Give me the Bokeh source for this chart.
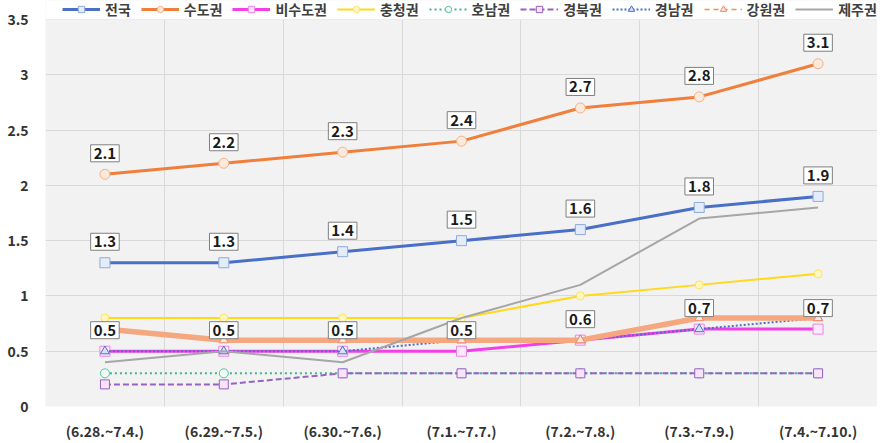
from bokeh.plotting import figure
from bokeh.models import FixedTicker, Legend, LegendItem, Label, BoxAnnotation
from bokeh.embed import file_html
from bokeh.resources import INLINE

categories = ["(6.28.~7.4.)", "(6.29.~7.5.)", "(6.30.~7.6.)", "(7.1.~7.7.)",
              "(7.2.~7.8.)", "(7.3.~7.9.)", "(7.4.~7.10.)"]
nationwide = [1.3, 1.3, 1.4, 1.5, 1.6, 1.8, 1.9]
capital = [2.1, 2.2, 2.3, 2.4, 2.7, 2.8, 3.1]
non_capital = [0.5, 0.5, 0.5, 0.5, 0.6, 0.7, 0.7]
chungcheong = [0.8, 0.8, 0.8, 0.8, 1.0, 1.1, 1.2]
honam = [0.3, 0.3, 0.3, 0.3, 0.3, 0.3, 0.3]
gyeongbuk = [0.2, 0.2, 0.3, 0.3, 0.3, 0.3, 0.3]
gyeongnam = [0.5, 0.5, 0.5, 0.6, 0.6, 0.7, 0.8]
gangwon = [0.7, 0.6, 0.6, 0.6, 0.6, 0.8, 0.8]
jeju = [0.4, 0.5, 0.4, 0.8, 1.1, 1.7, 1.8]
y_ticks = [0, 0.5, 1, 1.5, 2, 2.5, 3, 3.5]
y_tick_labels = ["0", "0.5", "1", "1.5", "2", "2.5", "3", "3.5"]

KR = "Noto Sans CJK KR"
xs = list(range(len(categories)))
LEFT, FW, FH, LEG = 45, 832, 406, 19   # LEG: px reserved at top of frame for legend
y_end = y_ticks[-1] * FH / (FH - LEG)

p = figure(frame_width=FW, frame_height=FH, x_range=(-0.5, len(categories) - 0.5),
           y_range=(y_ticks[0], y_end), output_backend="svg",
           toolbar_location=None, min_border_left=LEFT, min_border_right=0,
           min_border_top=0, min_border_bottom=29)
p.background_fill_color = "#f2f2f2"
p.border_fill_color = "white"
p.outline_line_color = None

p.xgrid.ticker = FixedTicker(ticks=[i + 0.5 for i in xs[:-1]])
p.ygrid.ticker = FixedTicker(ticks=y_ticks)
p.xgrid.grid_line_color = "#d9d9d9"
p.ygrid.grid_line_color = "#d9d9d9"

p.xaxis.ticker = FixedTicker(ticks=xs)
p.xaxis.major_label_overrides = {i: c for i, c in enumerate(categories)}
p.yaxis.ticker = FixedTicker(ticks=y_ticks)
p.yaxis.major_label_overrides = {t: l for t, l in zip(y_ticks, y_tick_labels)}
for ax in (p.xaxis, p.yaxis):
    ax.axis_line_color = None
    ax.major_tick_line_color = None
    ax.minor_tick_line_color = None
    ax.major_label_text_font = KR
    ax.major_label_text_font_size = "14px"
    ax.major_label_text_font_style = "bold"
    ax.major_label_text_color = "#333333"
p.yaxis.major_label_standoff = 11
p.xaxis.major_label_standoff = 8

items = []

def series(name, vals, color, width, dash="solid", marker=None, mfill="white",
           mline=None, msize=9, under=None):
    r = p.line(xs, vals, line_color=color, line_width=width, line_dash=dash)
    rs = [r]
    if under:
        p.line(xs, vals, line_color=under, line_width=5.5)
    if marker:
        m = p.scatter(xs, vals, marker=marker, size=msize, fill_color=mfill,
                      line_color=mline or color, line_width=1)
        rs.append(m)
    items.append(LegendItem(label=name, renderers=rs))

series("전국", nationwide, "#4a6fc7", 3, marker="square", mfill="#e3ecf8", mline="#8faadc", msize=10)
series("수도권", capital, "#ef7f3a", 3, marker="circle", mfill="#fde9dc", mline="#f4b183", msize=10)
series("비수도권", non_capital, "#f23fe6", 3, marker="square", mfill="#fdeafc", mline="#f080ea", msize=10)
series("충청권", chungcheong, "#ffd91a", 2, marker="circle", mfill="#fff7c2", mline="#ffe35c", msize=8)
series("호남권", honam, "#3fb58c", 2, dash="2 3", marker="circle", mfill="#f2fbf7", mline="#55c29c", msize=9)
series("경북권", gyeongbuk, "#9563c4", 2, dash="6 3", marker="square", mfill="#f8e4f8", mline="#9563c4", msize=9)
series("경남권", gyeongnam, "#4a6fc7", 2, dash="2 2", marker="triangle", mfill="#dae3f3", mline="#4a6fc7", msize=9)
series("강원권", gangwon, "#f0904f", 1.5, dash="5 4", marker="triangle", mfill="#fde9dc",
       mline="#f08a6a", msize=9, under="#F5A77F")
series("제주권", jeju, "#a6a6a6", 2)

# boxed value labels
for vals in (nationwide, capital, non_capital):
    for x, v in zip(xs, vals):
        p.add_layout(Label(x=x, y=v, text=f"{v:.1f}", y_offset=21,
                           text_align="center", text_baseline="middle",
                           text_font=KR, text_font_size="15px", text_font_style="bold",
                           text_color="#1a1a1a", background_fill_color="white",
                           border_line_color="#7f7f7f", border_line_width=1,
                           padding=3))

# white strip above the value range where the legend sits
p.add_layout(BoxAnnotation(bottom=y_ticks[-1], fill_color="white", fill_alpha=1,
                           line_color=None))

legend = Legend(items=items, orientation="horizontal", location=(17, FH - 19),
                glyph_width=38, glyph_height=16, label_height=16, label_standoff=5,
                spacing=10, padding=0, margin=0, border_line_color=None,
                background_fill_alpha=0, label_text_font=KR,
                label_text_font_size="14px", label_text_font_style="bold",
                label_text_color="#404040")
p.add_layout(legend, "center")

open("out.html", "w").write(file_html(p, INLINE))
